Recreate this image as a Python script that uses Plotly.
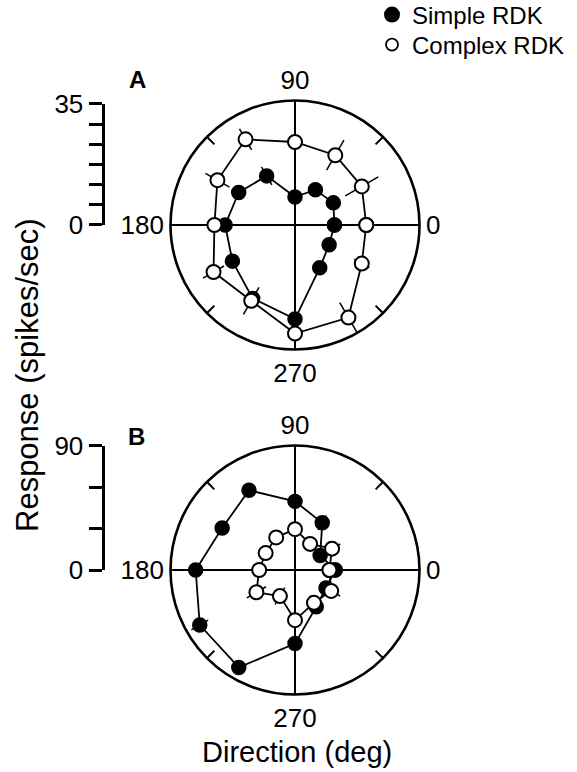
import plotly.graph_objects as go
import numpy as np

# ---------------- data ----------------
directions = [0, 30, 60, 90, 120, 150, 180, 210, 240, 270, 300, 330]

# Panel A (spikes/sec)
simple_A = [11.4, 12.8, 11.8, 8.1, 16.4, 18.8, 20.2, 20.9, 24.5, 27.2, 14.3, 11.4]
simple_A_err = [1.0, 1.0, 1.0, 1.0, 3.0, 1.0, 1.0, 1.0, 1.0, 1.0, 1.0, 1.0]
complex_A = [20.6, 22.3, 23.3, 24.0, 28.6, 25.9, 23.3, 27.2, 25.3, 31.4, 30.9, 22.3]
complex_A_err = [1.0, 5.5, 5.0, 1.0, 3.5, 4.0, 1.0, 3.5, 4.5, 1.0, 5.0, 2.5]

# Panel B (spikes/sec)
simple_B = [29.0, 21.0, 39.4, 49.6, 66.5, 60.8, 71.8, 79.5, 81.3, 53.2, 30.7, 25.9]
simple_B_err = [3.0, 3.0, 6.0, 3.0, 3.0, 3.0, 3.0, 7.0, 4.0, 3.0, 3.0, 3.0]
complex_B = [24.9, 30.9, 21.8, 29.5, 27.2, 24.5, 25.9, 32.2, 21.8, 36.3, 27.4, 30.2]
complex_B_err = [3.0, 7.0, 3.0, 3.0, 3.0, 3.0, 3.0, 8.0, 7.0, 3.0, 6.0, 7.5]

angle_ticks = [0, 90, 180, 270]
angle_labels = ["0", "90", "180", "270"]
minor_angle_ticks = [45, 135, 225, 315]

rmax_A = 36
rmax_B = 90
scale_A_ticks = list(np.linspace(0, 35, 7))
scale_A_text = ["0", "", "", "", "", "", "35"]
scale_B_ticks = [0, 30, 60, 90]
scale_B_text = ["0", "", "", "90"]

# ---------------- geometry (pixels) ----------------
W, H = 577, 772
R_PX = 124.5
CX = 295
CY_A = 225
CY_B = 570
FONT = "Liberation Sans, Arial, sans-serif"
TICK_SIZE = 26


def polar_domain(cx, cy):
    return dict(x=[(cx - R_PX) / W, (cx + R_PX) / W],
                y=[1 - (cy + R_PX) / H, 1 - (cy - R_PX) / H])


def closed(v):
    return list(v) + [v[0]]


def err_segments(r, e, th):
    rr, tt = [], []
    for ri, ei, ti in zip(r, e, th):
        rr += [ri - ei, ri + ei, None]
        tt += [ti, ti, None]
    return rr, tt


fig = go.Figure()

line_style = dict(color="black", width=1.8)
filled_marker = dict(symbol="circle", size=14, color="black", line=dict(color="black", width=1.5))
open_marker = dict(symbol="circle", size=14, color="white", line=dict(color="black", width=2))

for subplot, s, se, c, ce in [("polar", simple_A, simple_A_err, complex_A, complex_A_err),
                              ("polar3", simple_B, simple_B_err, complex_B, complex_B_err)]:
    for vals, errs in [(s, se), (c, ce)]:
        rr, tt = err_segments(vals, errs, directions)
        fig.add_trace(go.Scatterpolar(r=rr, theta=tt, mode="lines", line=dict(color="black", width=1.5),
                                      subplot=subplot, showlegend=False, hoverinfo="skip"))
    fig.add_trace(go.Scatterpolar(r=closed(s), theta=closed(directions), mode="lines+markers",
                                  line=line_style, marker=filled_marker, subplot=subplot,
                                  showlegend=False, name="Simple RDK"))
    fig.add_trace(go.Scatterpolar(r=closed(c), theta=closed(directions), mode="lines+markers",
                                  line=line_style, marker=open_marker, subplot=subplot,
                                  showlegend=False, name="Complex RDK"))

# legend entries (marker only), each in its own legend box
fig.add_trace(go.Scatterpolar(r=[None], theta=[None], mode="markers", name="Simple RDK",
                              marker=dict(symbol="circle", size=16, color="black"),
                              subplot="polar2", legend="legend"))
fig.add_trace(go.Scatterpolar(r=[None], theta=[None], mode="markers", name="Complex RDK",
                              marker=dict(symbol="circle", size=12, color="white",
                                          line=dict(color="black", width=1.8)),
                              subplot="polar2", legend="legend2"))
fig.add_trace(go.Scatterpolar(r=[None], theta=[None], mode="markers", showlegend=False,
                              subplot="polar4"))
# anchors for the scale-bar axes
fig.add_trace(go.Scatter(x=[None], y=[None], xaxis="x", yaxis="y", showlegend=False, hoverinfo="skip"))
fig.add_trace(go.Scatter(x=[None], y=[None], xaxis="x2", yaxis="y2", showlegend=False, hoverinfo="skip"))


def main_polar(cy, rmax):
    return dict(
        domain=polar_domain(CX, cy),
        bgcolor="white",
        radialaxis=dict(visible=False, range=[0, rmax]),
        angularaxis=dict(rotation=0, direction="counterclockwise",
                         tickmode="array", tickvals=angle_ticks, ticktext=angle_labels,
                         ticks="", showgrid=True, gridcolor="black", gridwidth=2.4,
                         showline=True, linecolor="black", linewidth=2.6,
                         tickfont=dict(family=FONT, size=TICK_SIZE, color="black")),
    )


def overlay_polar(cy, rmax):
    return dict(
        domain=polar_domain(CX, cy),
        bgcolor="rgba(0,0,0,0)",
        radialaxis=dict(visible=False, range=[0, rmax]),
        angularaxis=dict(rotation=0, direction="counterclockwise",
                         tickmode="array", tickvals=minor_angle_ticks,
                         ticks="inside", ticklen=10, tickwidth=2.2, tickcolor="black",
                         showticklabels=False, showgrid=False, showline=False),
    )


def scale_axis_domain(cy, rmax, top_val):
    y0 = 1 - cy / H
    y1 = 1 - (cy - top_val / rmax * R_PX) / H
    return [y0, y1]


def scale_yaxis(cy, rmax, top_val, tickvals, ticktext, anchor):
    return dict(domain=scale_axis_domain(cy, rmax, top_val), range=[0, top_val], anchor=anchor,
                tickmode="array", tickvals=tickvals, ticktext=ticktext,
                ticks="outside", ticklen=13, tickwidth=2.8, tickcolor="black",
                showline=True, linewidth=3, linecolor="black", showgrid=False, zeroline=False,
                tickfont=dict(family=FONT, size=TICK_SIZE, color="black"))


BAR_X = 104.5
legend_common = dict(x=372 / W, xanchor="left", yanchor="middle",
                     font=dict(family=FONT, size=24, color="black"),
                     bgcolor="rgba(0,0,0,0)", borderwidth=0, itemsizing="trace")
layout = dict(
    width=W, height=H,
    margin=dict(l=0, r=0, t=0, b=0, pad=0, autoexpand=False),
    paper_bgcolor="white", plot_bgcolor="rgba(0,0,0,0)",
    font=dict(family=FONT, size=24, color="black"),
    polar=main_polar(CY_A, rmax_A),
    polar2=overlay_polar(CY_A, rmax_A),
    polar3=main_polar(CY_B, rmax_B),
    polar4=overlay_polar(CY_B, rmax_B),
    xaxis=dict(domain=[BAR_X / W, (BAR_X + 5) / W], visible=False, range=[0, 1], anchor="y"),
    yaxis=scale_yaxis(CY_A, rmax_A, 35, scale_A_ticks, scale_A_text, "x"),
    xaxis2=dict(domain=[BAR_X / W, (BAR_X + 5) / W], visible=False, range=[0, 1], anchor="y2"),
    yaxis2=scale_yaxis(CY_B, rmax_B, 90, scale_B_ticks, scale_B_text, "x2"),
    legend=dict(y=1 - 15 / H, **legend_common),
    legend2=dict(y=1 - 45 / H, **legend_common),
    showlegend=True,
    annotations=[
        dict(text="<b>A</b>", x=137 / W, y=1 - 79 / H, xref="paper", yref="paper",
             xanchor="center", yanchor="middle",
             showarrow=False, font=dict(family=FONT, size=24, color="black")),
        dict(text="<b>B</b>", x=136 / W, y=1 - 436 / H, xref="paper", yref="paper",
             xanchor="center", yanchor="middle",
             showarrow=False, font=dict(family=FONT, size=24, color="black")),
        dict(text="Response (spikes/sec)", x=28 / W, y=1 - 375 / H, xref="paper", yref="paper",
             xanchor="center", yanchor="middle",
             textangle=-90, showarrow=False, font=dict(family=FONT, size=31, color="black")),
        dict(text="Direction (deg)", x=297 / W, y=1 - 752 / H, xref="paper", yref="paper",
             xanchor="center", yanchor="middle",
             showarrow=False, font=dict(family=FONT, size=29, color="black")),
    ],
)
fig.update_layout(**layout)

fig.write_html("out.html")
